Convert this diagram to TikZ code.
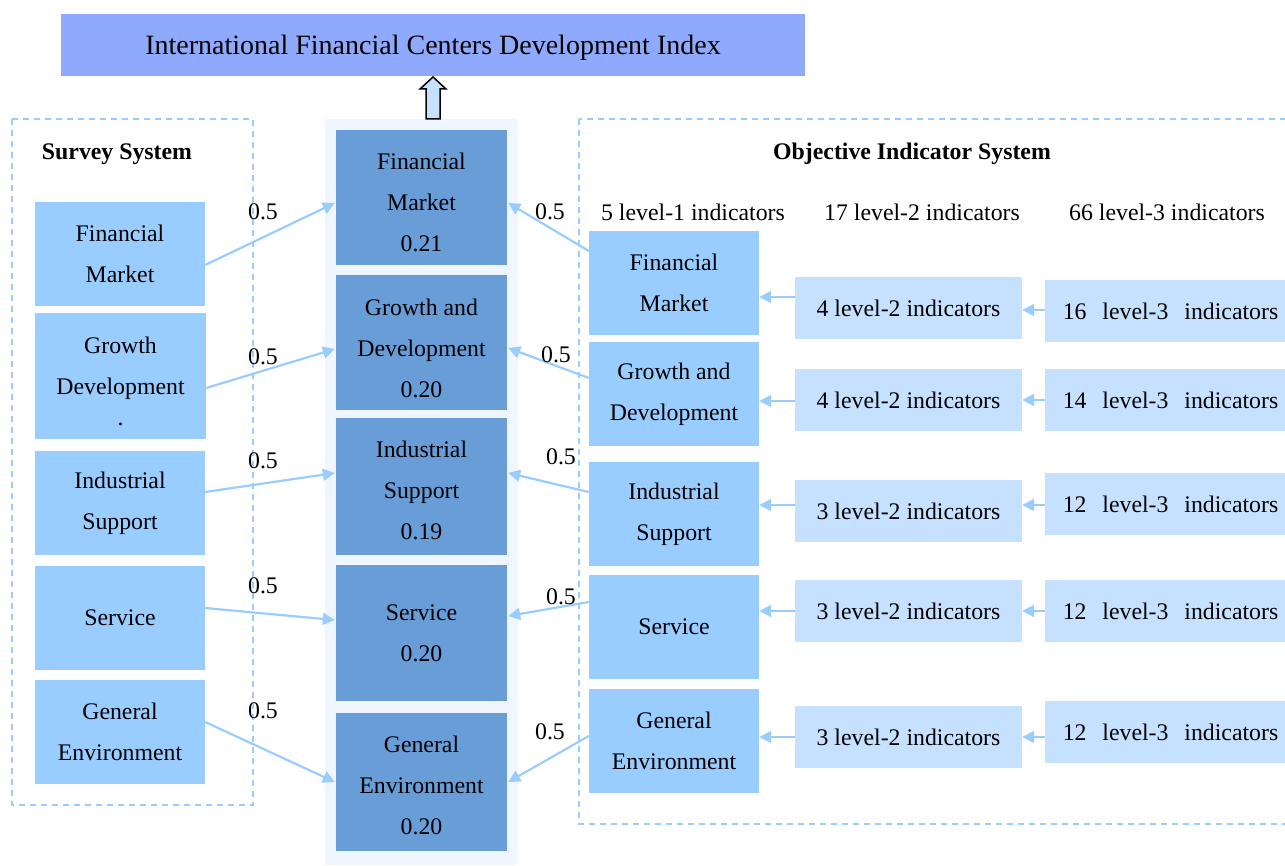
\documentclass[tikz,border=0pt]{standalone}
\usepackage{fontspec}
\setmainfont{Liberation Serif}
\usetikzlibrary{arrows.meta}
\definecolor{lb}{RGB}{153,204,255}
\definecolor{mb}{RGB}{104,157,216}
\definecolor{pb}{RGB}{197,225,255}
\definecolor{bgc}{RGB}{240,246,255}
\definecolor{tb}{RGB}{143,170,252}
\begin{document}
\begin{tikzpicture}[x=1pt,y=-1pt,
  txt/.style={font=\fontsize{23.8}{41}\selectfont, align=center, inner sep=0pt, text=black},
  hdr/.style={font=\fontsize{23.8}{28}\selectfont\bfseries, inner sep=0pt},
  lbox/.style={txt, fill=lb, minimum width=170pt, minimum height=104pt},
  mbox/.style={txt, fill=mb, minimum width=171pt},
  pbox/.style={txt, fill=pb, minimum height=62pt},
  conn/.style={draw=lb, line width=2.2pt, -{Triangle[length=12pt,width=12pt]}},
  dbox/.style={draw=lb, dash pattern=on 6pt off 5pt, line width=1.5pt},
  wt/.style={txt}]
\clip (0,0) rectangle (1285,866);
% backgrounds
\fill[bgc] (325,119) rectangle (518,865);
\draw[dbox] (12,119) rectangle (253,805);
\draw[dbox] (579,119) rectangle (1300,824);
% title
\node[fill=tb, minimum width=744pt, minimum height=62pt, inner sep=0pt,
      label={[font=\fontsize{28}{32}\selectfont, inner sep=0pt, yshift=-3pt]center:International Financial Centers Development Index}] (title) at (433,45) {};
% block arrow
\draw[line width=1.5pt, fill=pb, line join=miter]
  (433,77) -- (446,89) -- (440,89) -- (440,119) -- (426,119) -- (426,89) -- (420,89) -- cycle;
% headers
\node[hdr] (hs) at (117,154) {Survey System};
\node[hdr] (ho) at (912,154) {Objective Indicator System};
\node[txt] (h1) at (693,212) {5 level-1 indicators};
\node[txt] (h2) at (922,212) {17 level-2 indicators};
\node[txt] (h3) at (1167,212) {66 level-3 indicators};
% left boxes
\node[lbox] (L1) at (120,254) {Financial\\Market};
\node[lbox, minimum width=171pt, minimum height=126pt,
      label={[txt, yshift=-5pt]center:{Growth\\Development\\[-10pt].}}] (L2) at (120.5,376) {};
\node[lbox] (L3) at (120,503) {Industrial\\Support};
\node[lbox] (L4) at (120,618) {Service};
\node[lbox] (L5) at (120,732) {General\\Environment};
% middle boxes
\node[mbox, minimum height=135pt, label={[txt, yshift=-5pt]center:{Financial\\Market\\0.21}}] (M1) at (421.5,197.5) {};
\node[mbox, minimum height=135pt, label={[txt, yshift=-5.5pt]center:{Growth and\\Development\\0.20}}] (M2) at (421.5,342.5) {};
\node[mbox, minimum height=137pt, label={[txt, yshift=-3.5pt]center:{Industrial\\Support\\0.19}}] (M3) at (421.5,486.5) {};
\node[mbox, minimum height=136pt] (M4) at (421.5,633) {Service\\0.20};
\node[mbox, minimum height=138pt, label={[txt, yshift=-3pt]center:{General\\Environment\\0.20}}] (M5) at (421.5,782) {};
% level-1 boxes
\node[lbox] (R1) at (674,283) {Financial\\Market};
\node[lbox] (R2) at (674,394) {Growth and\\Development};
\node[lbox] (R3) at (674,514) {Industrial\\Support};
\node[lbox] (R4) at (674,627) {Service};
\node[lbox] (R5) at (674,741) {General\\Environment};
% level-2 boxes
\node[pbox, minimum width=227pt] (T1) at (908.5,308.5) {4 level-2 indicators};
\node[pbox, minimum width=227pt] (T2) at (908.5,400) {4 level-2 indicators};
\node[pbox, minimum width=227pt] (T3) at (908.5,511) {3 level-2 indicators};
\node[pbox, minimum width=227pt] (T4) at (908.5,611) {3 level-2 indicators};
\node[pbox, minimum width=227pt] (T5) at (908.5,737) {3 level-2 indicators};
% level-3 boxes
\node[pbox, minimum width=245pt, text width=245pt] (U1) at (1167.5,311) {\hspace*{6pt}16 ~level-3 ~indicators};
\node[pbox, minimum width=245pt, text width=245pt] (U2) at (1167.5,400) {\hspace*{6pt}14 ~level-3 ~indicators};
\node[pbox, minimum width=245pt, text width=245pt] (U3) at (1167.5,504) {\hspace*{6pt}12 ~level-3 ~indicators};
\node[pbox, minimum width=245pt, text width=245pt] (U4) at (1167.5,611) {\hspace*{6pt}12 ~level-3 ~indicators};
\node[pbox, minimum width=245pt, text width=245pt] (U5) at (1167.5,732) {\hspace*{6pt}12 ~level-3 ~indicators};
% survey arrows
\draw[conn] ([yshift=-11pt]L1.east) -- ([yshift=-5.5pt,xshift=-1pt]M1.west);
\draw[conn] ([yshift=-12pt]L2.east) -- ([yshift=-6.5pt,xshift=-1pt]M2.west);
\draw[conn] ([yshift=11pt]L3.east) -- ([yshift=13.5pt,xshift=-1pt]M3.west);
\draw[conn] ([yshift=10pt]L4.east) -- ([yshift=13pt,xshift=-1pt]M4.west);
\draw[conn] ([yshift=10pt]L5.east) -- ([xshift=-1pt]M5.west);
% objective arrows
\draw[conn] ([yshift=32pt]R1.west) -- ([yshift=-5.5pt,xshift=1pt]M1.east);
\draw[conn] ([yshift=16pt]R2.west) -- ([yshift=-5.5pt,xshift=1pt]M2.east);
\draw[conn] ([yshift=22pt]R3.west) -- ([yshift=13.5pt,xshift=1pt]M3.east);
\draw[conn] ([yshift=25pt]R4.west) -- ([yshift=17pt,xshift=1pt]M4.east);
\draw[conn] ([yshift=5pt]R5.west) -- ([xshift=1pt]M5.east);
% level-2 -> level-1
\draw[conn] ([yshift=11.5pt]T1.west) -- ([yshift=11.5pt]T1.west -| R1.east);
\draw[conn] ([yshift=-1pt]T2.west) -- ([yshift=-1pt]T2.west -| R2.east);
\draw[conn] ([yshift=6pt]T3.west) -- ([yshift=6pt]T3.west -| R3.east);
\draw[conn] (T4.west) -- (T4.west -| R4.east);
\draw[conn] (T5.west) -- (T5.west -| R5.east);
% level-3 -> level-2
\draw[conn] ([yshift=1pt]U1.west) -- ([yshift=1pt]U1.west -| T1.east);
\draw[conn] (U2.west) -- (U2.west -| T2.east);
\draw[conn] ([yshift=-1pt]U3.west) -- ([yshift=-1pt]U3.west -| T3.east);
\draw[conn] (U4.west) -- (U4.west -| T4.east);
\draw[conn] ([yshift=-5pt]U5.west) -- ([yshift=-5pt]U5.west -| T5.east);
% weights
\node[wt] (a1) at (263,212) {0.5};
\node[wt] (a2) at (263,357) {0.5};
\node[wt] (a3) at (263,461) {0.5};
\node[wt] (a4) at (263,586) {0.5};
\node[wt] (a5) at (263,711) {0.5};
\node[wt] (b1) at (550,212) {0.5};
\node[wt] (b2) at (556,355) {0.5};
\node[wt] (b3) at (561,457) {0.5};
\node[wt] (b4) at (561,597) {0.5};
\node[wt] (b5) at (550,732) {0.5};
\end{tikzpicture}
\end{document}
